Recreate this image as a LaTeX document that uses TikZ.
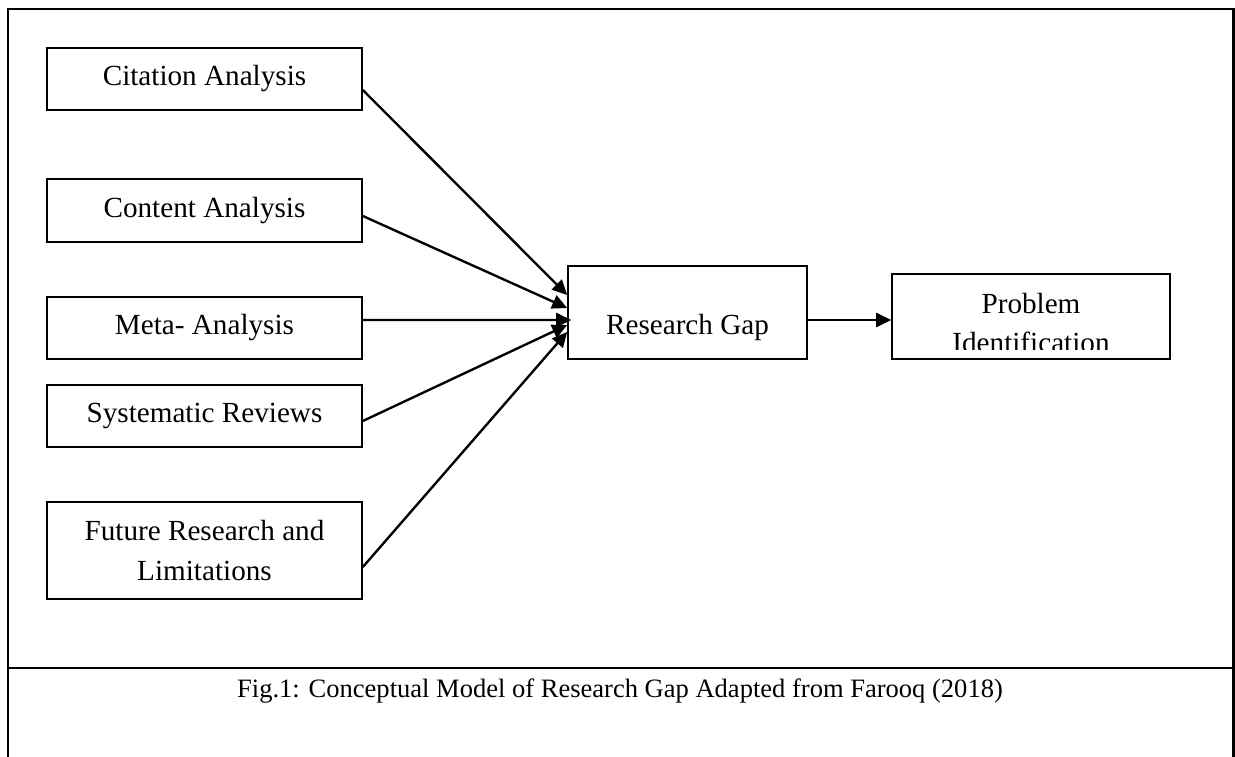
\documentclass[tikz,border=0pt]{standalone}
\usepackage{fontspec}
\setmainfont{Liberation Serif}
\usetikzlibrary{arrows.meta, calc, positioning}

\begin{document}
\begin{tikzpicture}[>={Triangle[length=8.5pt, width=8pt]},
    box/.style={draw, line width=0.95pt, minimum width=6.3cm, minimum height=1.24cm,
        inner sep=0pt, align=center, font=\fontsize{16.6}{22.7}\selectfont},
    arr/.style={->, line width=1.35pt}]
    \useasboundingbox (0,0) rectangle (24.7,-15.12);

    % Frame and caption rule
    \draw[line width=1.4pt] (0.16,-15.3) -- (0.16,-0.18) -- (24.67,-0.18) -- (24.67,-15.3);
    \draw[line width=1.3pt] (0.16,-13.36) -- (24.7,-13.36);

    % Sources of the gap
    \node[box] (cit) at (4.09,-1.58) {Citation Analysis};
    \node[box, minimum height=1.26cm] (con) at (4.09,-4.21) {Content Analysis};
    \node[box] (meta) at (4.09,-6.56) {Meta- Analysis};
    \node[box] (sys) at (4.09,-8.32) {Systematic Reviews};
    \node[box, minimum height=1.94cm] (fut) at (4.09,-11.01) {Future Research and\\Limitations};

    % Gap and problem
    \node[box, minimum width=4.78cm, minimum height=1.86cm, text height=25pt, text depth=0pt]
        (gap) at (13.75,-6.25) {Research Gap};
    \node[box, minimum width=5.56cm, minimum height=1.7cm,
        path picture={
            \clip ([yshift=0.2cm]path picture bounding box.south west) rectangle (path picture bounding box.north east);
            \node[draw=none, anchor=north, align=center, inner sep=0pt, minimum width=0pt, minimum height=0pt,
                font=\fontsize{16.6}{22.7}\selectfont]
                at ([yshift=-0.36cm]path picture bounding box.north) {Problem\\Identification};
        }] (prob) at (20.62,-6.33) {};

    % Arrows into the gap
    \draw[arr] ([yshift=-0.22cm]cit.east) -- ([yshift=0.35cm]gap.west);
    \draw[arr] ([yshift=-0.11cm]con.east) -- ([yshift=0.09cm]gap.west);
    \draw[arr] ([yshift=0.16cm]meta.east) -- ([xshift=0.08cm, yshift=-0.15cm]gap.west);
    \draw[arr] ([yshift=-0.1cm]sys.east) -- ([yshift=-0.25cm]gap.west);
    \draw[arr] ([yshift=-0.33cm]fut.east) -- ([yshift=-0.39cm]gap.west);
    \draw[arr] ([yshift=-0.15cm]gap.east) coordinate (g) -- (g -| prob.west);

    % Caption
    \node[anchor=base, font=\fontsize{15.1}{18}\selectfont] (cap) at (12.4,-13.94)
        {Fig.1: Conceptual Model of Research Gap Adapted from Farooq (2018)};
\end{tikzpicture}
\end{document}
